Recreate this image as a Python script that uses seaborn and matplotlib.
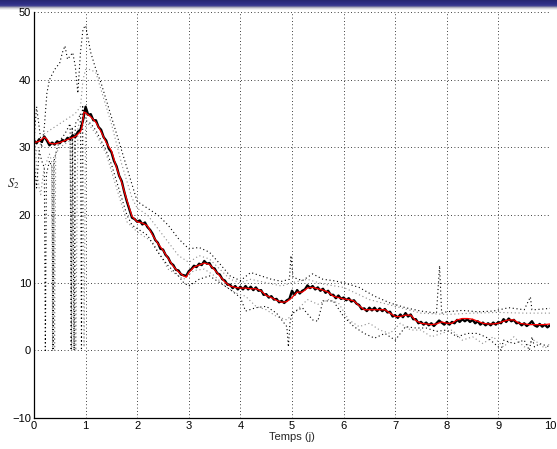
import numpy as np
import matplotlib
matplotlib.use("Agg")
import matplotlib.pyplot as plt
import seaborn as sns

# true state (red)
red_t = [0, 0.1, 0.2, 0.25, 0.3, 0.4, 0.5, 0.6, 0.7, 0.8, 0.9, 0.93, 0.97, 1.0,
         1.1, 1.2, 1.3, 1.4, 1.5, 1.6, 1.7, 1.8, 1.9, 2.0, 2.1, 2.2, 2.3, 2.4, 2.5,
         2.6, 2.7, 2.8, 2.9, 2.95, 3.0, 3.1, 3.2, 3.3, 3.4, 3.5, 3.6, 3.7, 3.8, 3.9,
         4.0, 4.1, 4.2, 4.3, 4.4, 4.5, 4.6, 4.7, 4.8, 4.9, 5.0, 5.1, 5.2, 5.3, 5.4,
         5.5, 5.6, 5.7, 5.8, 5.9, 6.0, 6.1, 6.2, 6.3, 6.4, 6.5, 6.6, 6.7, 6.8, 6.9,
         7.0, 7.1, 7.2, 7.3, 7.4, 7.5, 7.6, 7.7, 7.8, 7.9, 8.0, 8.1, 8.2, 8.3, 8.4,
         8.5, 8.6, 8.7, 8.8, 8.9, 9.0, 9.1, 9.2, 9.3, 9.4, 9.5, 9.6, 9.7, 9.8, 9.9, 10.0]
red_v = [30.7, 30.9, 31.5, 31.2, 30.6, 30.5, 30.7, 31.0, 31.3, 31.6, 32.3, 33.0, 35.2, 35.1,
         34.5, 33.7, 32.3, 30.7, 29.5, 27.0, 24.8, 22.2, 19.8, 19.0, 18.8, 18.4, 17.0, 15.8, 14.8,
         13.6, 12.4, 11.6, 11.0, 10.8, 11.5, 12.3, 12.6, 12.9, 12.7, 11.9, 11.0, 10.1, 9.5, 9.3,
         9.2, 9.2, 9.1, 9.1, 8.8, 8.1, 7.8, 7.4, 7.1, 7.2, 7.8, 8.6, 8.6, 9.2, 9.3,
         9.1, 8.9, 8.6, 8.0, 7.8, 7.6, 7.5, 7.3, 6.6, 6.0, 6.0, 6.0, 6.0, 6.0, 5.5,
         5.0, 5.0, 5.2, 5.2, 4.4, 4.0, 3.9, 3.8, 3.9, 4.2, 4.0, 4.0, 4.5, 4.7, 4.7,
         4.6, 4.3, 4.0, 3.9, 3.9, 4.0, 4.3, 4.5, 4.5, 4.0, 3.9, 3.8, 3.8, 3.8, 3.8, 3.9]

# estimate (black), every 0.05 day
est_t = [round(0.05 * i, 2) for i in range(201)]
est_v = [31.0, 30.6, 31.2, 30.8, 31.6, 31.0, 30.3, 30.7, 30.4, 30.9,
         30.6, 31.1, 30.9, 31.4, 31.2, 31.8, 31.5, 32.3, 32.6, 34.0,
         36.0, 34.8, 34.9, 34.0, 34.0, 33.0, 32.6, 31.5, 31.0, 29.8,
         29.3, 28.0, 27.2, 25.8, 25.0, 23.4, 22.0, 20.8, 19.6, 19.4,
         19.0, 19.2, 18.6, 18.9, 18.2, 17.8, 17.2, 16.3, 15.9, 15.0,
         14.9, 14.1, 13.7, 12.9, 12.6, 11.9, 11.8, 11.2, 11.1, 11.0,
         11.7, 12.0, 12.5, 12.3, 12.8, 12.6, 13.2, 12.8, 12.9, 12.2,
         12.1, 11.4, 11.2, 10.5, 10.3, 9.7, 9.7, 9.2, 9.5, 9.0,
         9.4, 9.0, 9.5, 9.0, 9.4, 8.9, 9.3, 8.8, 8.9, 8.2,
         8.3, 7.8, 8.0, 7.5, 7.6, 7.1, 7.3, 7.0, 7.4, 7.6,
         8.8, 8.2, 8.9, 8.4, 8.8, 9.0, 9.6, 9.2, 9.5, 9.0,
         9.3, 8.8, 9.1, 8.5, 8.8, 8.2, 8.2, 7.7, 8.1, 7.6,
         7.8, 7.4, 7.7, 7.2, 7.4, 6.9, 6.7, 6.1, 6.2, 5.8,
         6.3, 5.9, 6.3, 5.8, 6.2, 5.8, 6.1, 5.6, 5.7, 5.0,
         5.2, 4.8, 5.3, 4.9, 5.5, 5.0, 5.3, 4.6, 4.6, 4.0,
         4.2, 3.8, 4.1, 3.7, 4.0, 3.6, 4.0, 4.4, 4.1, 3.8,
         4.2, 3.8, 4.2, 4.0, 4.5, 4.2, 4.6, 4.3, 4.6, 4.2,
         4.5, 4.0, 4.3, 3.8, 4.1, 3.7, 4.0, 3.7, 4.1, 3.8,
         4.2, 4.0, 4.6, 4.2, 4.7, 4.3, 4.5, 4.0, 4.1, 3.7,
         4.0, 3.6, 3.9, 4.3, 3.7, 3.5, 3.9, 3.5, 3.8, 3.4,
         3.7]

# upper bound (black dotted)
ub_t = [0, 0.05, 0.1, 0.15, 0.2, 0.25, 0.3, 0.4, 0.5, 0.55, 0.6, 0.65, 0.7, 0.75, 0.8,
        0.85, 0.9, 0.95, 1.0, 1.05, 1.1, 1.2, 1.3, 1.4, 1.5, 1.6, 1.7, 1.8, 1.9, 2.0,
        2.2, 2.4, 2.6, 2.8, 3.0, 3.2, 3.4, 3.6, 3.8, 4.0, 4.2, 4.4, 4.6, 4.8, 4.95,
        4.98, 5.02, 5.2, 5.4, 5.6, 5.8, 6.0, 6.3, 6.6, 6.9, 7.2, 7.5, 7.8, 7.86, 7.9,
        8.0, 8.3, 8.6, 8.9, 9.2, 9.5, 9.62, 9.65, 9.7, 10.0]
ub_v = [31, 36, 33, 30, 33, 38, 40, 41.5, 42.5, 44, 45, 43, 43.5, 44, 42,
        38, 44, 47.5, 48, 46, 44, 41.5, 39.5, 37, 34.5, 32, 29.5, 27, 24.5, 22,
        21, 20, 18.5, 16.5, 15, 15.2, 14.5, 12.8, 11, 10.3, 11.5, 11, 10.5, 10.2, 10.5,
        14, 10.8, 10.3, 11.3, 10.5, 10.3, 10, 9.3, 8, 7, 6.3, 5.8, 5.5, 12.5, 5.5,
        5.7, 5.9, 5.7, 5.8, 6.3, 6, 7.9, 6, 6, 6.2]

# upper bound (grey dotted)
ug_t = [0, 0.1, 0.2, 0.3, 0.4, 0.5, 0.6, 0.7, 0.8, 0.9, 0.95, 1.0,
        1.1, 1.2, 1.3, 1.4, 1.5, 1.6, 1.7, 1.8, 1.9, 2.0,
        2.2, 2.4, 2.6, 2.8, 3.0, 3.2, 3.4, 3.6, 3.8, 4.0,
        4.2, 4.5, 4.8, 5.0, 5.3, 5.6, 6.0, 6.5, 7.0, 7.5, 8.0, 8.5, 9.0, 9.5, 10.0]
ug_v = [29, 30, 32, 32.5, 33, 33.5, 34, 34.5, 35, 36, 40, 41.5,
        41.5, 41, 38.5, 36, 33.5, 30.5, 27.5, 25, 22.5, 21,
        20, 18, 16, 14, 13, 14, 13.5, 12, 10.5, 10,
        10.5, 10, 9.5, 10, 10.5, 9.8, 9.3, 7.5, 6.5, 5.5, 5.3, 5.5, 5.6, 5.5, 5.5]

# lower bound (black dotted)
lb_t = [0, 0.05, 0.1, 0.15, 0.2, 0.22, 0.24, 0.3, 0.35, 0.37, 0.39,
        0.45, 0.5, 0.6, 0.7, 0.72, 0.74, 0.78, 0.8, 0.85, 0.9, 0.92, 0.94, 1.0,
        1.1, 1.2, 1.3, 1.4, 1.5, 1.6, 1.7, 1.8, 1.9, 2.0,
        2.2, 2.4, 2.6, 2.8, 2.9, 3.0, 3.2, 3.4, 3.6, 3.8, 4.0,
        4.1, 4.3, 4.5, 4.7, 4.9, 4.93, 4.96, 5.0,
        5.2, 5.4, 5.5, 5.6, 5.8, 6.0,
        6.2, 6.4, 6.6, 6.8, 7.0, 7.2, 7.4, 7.6, 7.8, 8.0,
        8.2, 8.4, 8.6, 8.8, 9.0, 9.05, 9.1, 9.3, 9.5, 9.6, 9.65, 9.7, 9.8, 10.0]
lb_v = [28, 24, 29.5, 28, 27, 0, 26, 28, 27, 0, 28,
        30, 31, 32, 33.5, 0, 33, 0, 33.5, 34, 35, 0, 36, 34,
        33.5, 32.5, 31, 29.5, 27.5, 25, 22.5, 20, 18.5, 18,
        17, 14.5, 12.5, 11, 10, 9.5, 10.5, 11, 10, 9, 7.8,
        5.8, 6.3, 6.5, 5.5, 3.5, 0.5, 4, 5.5,
        6.3, 4.5, 4.3, 7.3, 7.3, 5,
        3.5, 2.5, 1.8, 2.5, 1.5, 3.5, 3.3, 3.3, 2.8, 3.0,
        2.0, 2.5, 2.5, 1.8, 0.5, 0, 1.5, 1, 1.5, 0, 2, 0.5, 1, 0.5]

# lower bound (grey dotted)
lg_t = [0, 0.05, 0.1, 0.13, 0.16, 0.2, 0.3, 0.34, 0.36, 0.38, 0.4, 0.42,
        0.5, 0.6, 0.7, 0.73, 0.75, 0.77, 0.79, 0.81, 0.85, 0.9, 0.95, 0.97, 1.0,
        1.2, 1.4, 1.6, 1.8, 2.0,
        2.3, 2.6, 2.9, 3.1, 3.3, 3.5, 3.7, 3.9,
        4.1, 4.3, 4.5, 4.7, 4.9, 5.1, 5.3, 5.5, 5.7, 5.9,
        6.1, 6.3, 6.5, 6.7, 6.9, 7.1, 7.3, 7.5, 7.7, 7.9,
        8.1, 8.3, 8.5, 8.7, 8.9, 9.1, 9.3, 9.5, 9.7, 9.9, 10.0]
lg_v = [33, 27, 24, 23, 25, 27, 29, 28, 0, 28.5, 0, 29,
        30, 30.5, 31, 0, 31.5, 0, 32, 0, 33, 34, 36, 0.5, 34,
        32, 29, 24, 19, 17.5,
        16, 12, 10.5, 11.8, 12, 11, 9.5, 8.5,
        8, 6.5, 6, 5, 4.5, 6, 7.5, 6.8, 7.5, 7,
        4.5, 3.5, 4, 3, 2.5, 4, 3, 3, 2, 2.5,
        3, 1.5, 2, 1, 2, 0.5, 2, 0.5, 1.5, 0.3, 1.0]

x_ticks = list(range(0, 11))
y_ticks = [-10, 0, 10, 20, 30, 40, 50]

sns.set_style("white")
plt.rcParams["font.family"] = ["Liberation Sans", "DejaVu Sans"]
plt.rcParams["mathtext.fontset"] = "stix"

fig = plt.figure(figsize=(5.57, 4.49), dpi=100)

# slide header strip
hdr = fig.add_axes([0, 1 - 11 / 449, 1, 11 / 449])
rows = np.array([[0.15, 0.15, 0.45], [0.16, 0.16, 0.48], [0.17, 0.17, 0.50],
                 [0.18, 0.18, 0.52], [0.20, 0.20, 0.54], [0.24, 0.24, 0.57],
                 [0.42, 0.42, 0.62], [0.68, 0.68, 0.75], [0.84, 0.84, 0.87],
                 [0.94, 0.94, 0.95], [1.0, 1.0, 1.0]])
hdr.imshow(rows[:, None, :], aspect="auto", interpolation="nearest")
hdr.axis("off")

ax = fig.add_axes([34 / 557, 1 - 418 / 449, 516 / 557, 406 / 449])
dot = (0, (1, 2.4))
sns.lineplot(x=lg_t, y=lg_v, ax=ax, color="#8c8c8c", lw=0.8, linestyle=dot, sort=False, estimator=None)
sns.lineplot(x=ug_t, y=ug_v, ax=ax, color="#8c8c8c", lw=0.8, linestyle=dot, sort=False, estimator=None)
sns.lineplot(x=lb_t, y=lb_v, ax=ax, color="black", lw=0.8, linestyle=dot, sort=False, estimator=None)
sns.lineplot(x=ub_t, y=ub_v, ax=ax, color="black", lw=0.8, linestyle=dot, sort=False, estimator=None)
sns.lineplot(x=est_t, y=est_v, ax=ax, color="black", lw=1.7, sort=False, estimator=None)
sns.lineplot(x=red_t, y=red_v, ax=ax, color="red", lw=0.9, sort=False, estimator=None)

ax.set_xlim(0, 10)
ax.set_ylim(-10, 50)
ax.set_xticks(x_ticks)
ax.set_yticks(y_ticks)
ax.grid(True, color="black", linestyle=(0, (1, 3)), linewidth=0.6)
ax.tick_params(direction="in", length=4, width=0.8, labelsize=8, pad=2, colors="black")
for s in ["top", "right"]:
    ax.spines[s].set_visible(False)
for s in ["left", "bottom"]:
    ax.spines[s].set_color("black")
    ax.spines[s].set_linewidth(0.9)

ax.set_xlabel("Temps (j)", fontsize=8, labelpad=1)
ax.set_ylabel("$S_2$", fontsize=9, rotation=0)
ax.yaxis.set_label_coords(-0.04, 0.56)

fig.savefig("out.png", dpi=100)
